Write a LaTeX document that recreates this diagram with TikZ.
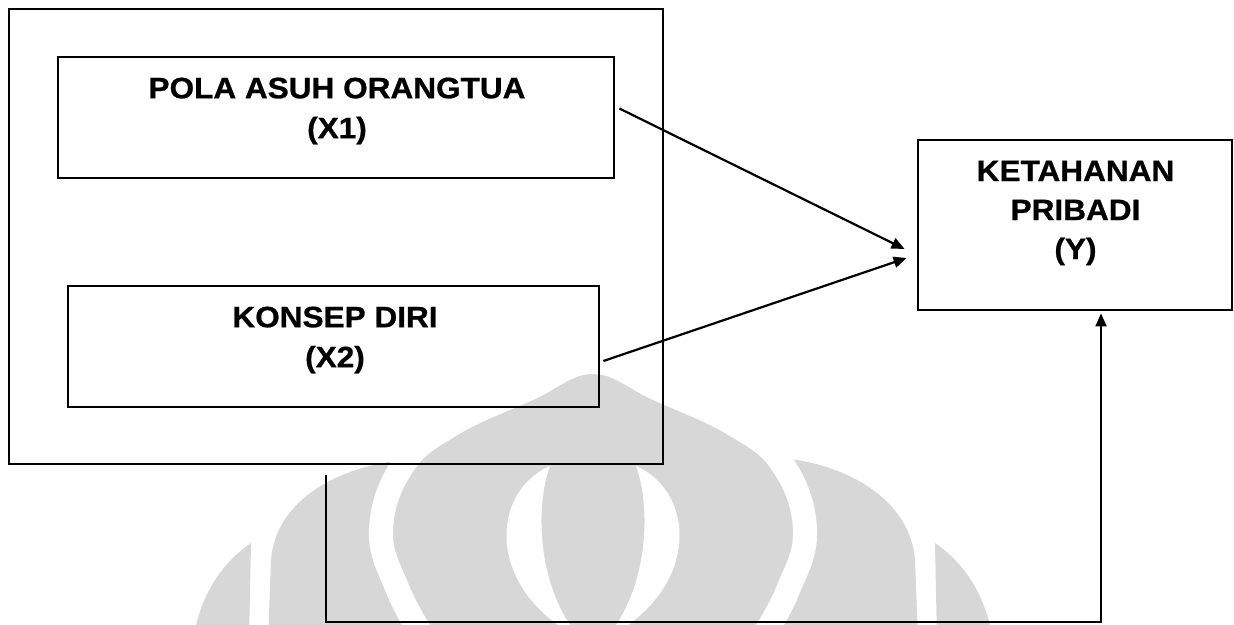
\documentclass[tikz,border=0pt]{standalone}
\usepackage{fontspec}
\newfontfamily\diagfont{Liberation Sans}[FakeStretch=1.07, FakeBold=0.8]
\usetikzlibrary{arrows.meta}
\definecolor{wm}{RGB}{215,215,215}
\begin{document}
\begin{tikzpicture}[x=1pt,y=-1pt,
  box/.style={draw=black, line width=2.8pt, rectangle, inner sep=0pt},
  lbl/.style={font=\diagfont\fontsize{29.5}{#1}\selectfont\bfseries, align=center, inner sep=0pt},
  lbl/.default=40,
  link/.style={line width=2.2pt, -{Triangle[length=13pt,width=11pt]}},
  fbline/.style={line width=2pt, -{Triangle[length=13pt,width=11pt]}},
]
\useasboundingbox (0,0) rectangle (1234,624);
\fill[white] (0,0) rectangle (1234,624);

% faint emblem in the background
\begin{scope}
  \clip (0,0) rectangle (1234,624);
  \fill[wm] (251,543) .. controls (226,560) and (201,590) .. (193,640) -- (249,640) -- cycle;
  \fill[wm] (935,543) .. controls (960,560) and (985,590) .. (993,640) -- (937,640) -- cycle;
  \fill[wm] (403,460) .. controls (330,468) and (275,505) .. (271,560) -- (268,640) -- (450,640) -- (440,470) -- cycle;
  \fill[wm] (783,458) .. controls (856,466) and (911,505) .. (915,560) -- (918,640) -- (736,640) -- (746,470) -- cycle;
  \filldraw[fill=wm, draw=white, line width=24pt]
    plot[smooth, tension=0.7] coordinates {(425,640) (398,590) (381,530) (403,465) (451,425) (526,390) (593,362)
      (660,390) (735,425) (783,465) (805,530) (788,590) (761,640)} -- cycle;
  \fill[white] (550,466) .. controls (495,490) and (485,575) .. (562,628) -- (572,628)
    .. controls (535,575) and (537,500) .. (550,466) -- cycle;
  \fill[white] (636,466) .. controls (691,490) and (701,575) .. (624,628) -- (614,628)
    .. controls (651,575) and (649,500) .. (636,466) -- cycle;
\end{scope}

% boxes
\node[box, line width=2.6pt, minimum width=654pt, minimum height=455pt] (outer) at (336,236.5) {};
\node[box, minimum width=556pt, minimum height=121pt] (x1) at (336,117.5) {};
\node[lbl] (x1t) at (337,111) {POLA ASUH ORANGTUA\\(X1)};
\node[box, minimum width=531pt, minimum height=121pt] (x2) at (333.5,346.5) {};
\node[lbl] (x2t) at (335,340) {KONSEP DIRI\\(X2)};
\node[box, minimum width=314pt, minimum height=170pt] (y) at (1075,225) {};
\node[lbl=39] (yt) at (1075.5,213) {KETAHANAN\\PRIBADI\\(Y)};

% influences
\draw[link] ([shift={(4,-9)}]x1.east) -- ([shift={(-12,24)}]y.west);
\draw[link] ([shift={(3,14.5)}]x2.east) -- ([shift={(-10,33)}]y.west);

% joint path from the bottom up into Y
\coordinate (fbstart) at (326,475);
\coordinate (fbcorner) at (326,622);
\draw[fbline] (fbstart) -- (fbcorner) -| ([shift={(26,2)}]y.south);
\end{tikzpicture}
\end{document}
